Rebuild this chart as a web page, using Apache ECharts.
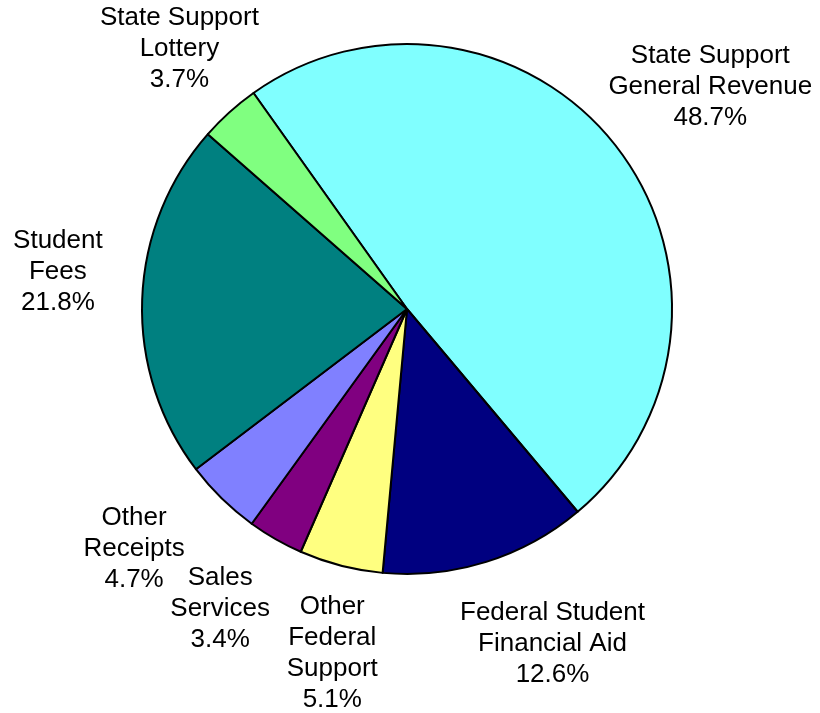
<!DOCTYPE html>
<html>
<head>
<meta charset="utf-8">
<script src="https://cdn.jsdelivr.net/npm/echarts@6/dist/echarts.min.js"></script>
<style>
html,body{margin:0;padding:0;background:#fff;}
#chart{width:820px;height:713px;}
</style>
</head>
<body>
<div id="chart"></div>
<script>
// ---- data ----
const categories = [
  'State Support\nGeneral Revenue',
  'Federal Student\nFinancial Aid',
  'Other\nFederal\nSupport',
  'Sales\nServices',
  'Other\nReceipts',
  'Student\nFees',
  'State Support\nLottery'
];
const shares = [48.7, 12.6, 5.1, 3.4, 4.7, 21.8, 3.7];

// ---- style ----
const colors = ['#80FFFF', '#000080', '#FFFF80', '#800080', '#8080FF', '#008080', '#80FF80'];
const CX = 407, CY = 309, R = 265, START = 125.4;
// label placement: radius factor and angular nudge (degrees) per label
const labelRadius = [1.419, 1.377, 1.328, 1.332, 1.370, 1.325, 1.305];
const labelNudge  = [1.5, -6.1, -2.2, 2.2, 4.4, 4.1, 0.9];

const total = shares.reduce((a, b) => a + b, 0);
const midAngles = [];
(function () {
  let acc = 0;
  for (let i = 0; i < shares.length; i++) {
    const startCW = 90 - START; // degrees clockwise from 12 o'clock
    midAngles.push(startCW + (acc + shares[i] / 2) / total * 360);
    acc += shares[i];
  }
})();

const chart = echarts.init(document.getElementById('chart'));
chart.setOption({
  animation: false,
  backgroundColor: '#ffffff',
  series: [{
    type: 'pie',
    center: [CX, CY],
    radius: R,
    startAngle: START,
    clockwise: true,
    avoidLabelOverlap: false,
    data: categories.map((c, i) => ({
      name: c,
      value: shares[i],
      itemStyle: { color: colors[i] }
    })),
    itemStyle: { borderColor: '#000', borderWidth: 2 },
    emphasis: { disabled: true },
    label: {
      show: true,
      position: 'outside',
      formatter: p => p.name + '\n' + p.value.toFixed(1) + '%',
      fontFamily: 'Liberation Sans, Arial, sans-serif',
      fontSize: 26,
      lineHeight: 31,
      color: '#000',
      align: 'center'
    },
    labelLine: { show: false },
    labelLayout: function (params) {
      const i = params.dataIndex;
      const a = (midAngles[i] + labelNudge[i]) * Math.PI / 180;
      const r = R * labelRadius[i];
      return {
        x: CX + r * Math.sin(a),
        y: CY - r * Math.cos(a),
        align: 'center',
        verticalAlign: 'middle'
      };
    }
  }]
});
</script>
</body>
</html>
